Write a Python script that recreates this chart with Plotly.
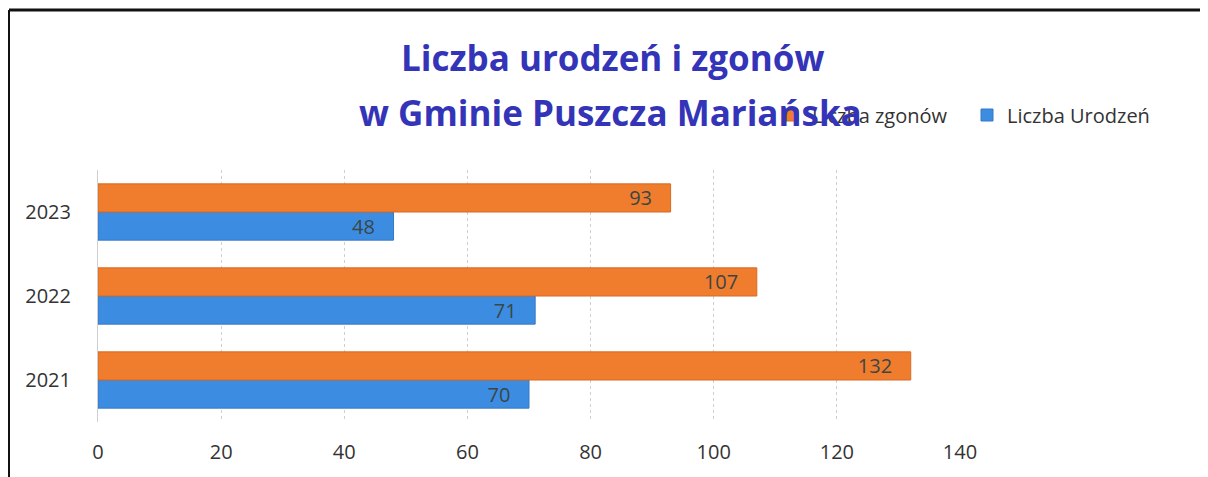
import plotly.graph_objects as go

years = ["2021", "2022", "2023"]
urodzenia = [70, 71, 48]
zgony = [132, 107, 93]
x_ticks = [0, 20, 40, 60, 80, 100, 120, 140]

# page body has an 8px margin: screenshot pixel p -> figure pixel p - 8
OFF = 8
W, H = 1208, 477
L, R, T, B = 98 - OFF, 1208 - (960 - OFF), 170 - OFF, 477 - (422 - OFF)
pw, ph = W - L - R, H - T - B

def px(x):
    return (x - OFF - L) / pw

def py(y):
    return (H - B - (y - OFF)) / ph

lbl_font = dict(family="Open Sans", size=20, color="#3B4646")
pad = "\u00a0\u00a0\u00a0"

fig = go.Figure()
fig.add_trace(go.Bar(
    y=years, x=urodzenia, orientation="h", name="Liczba Urodzeń",
    marker=dict(color="#3C8DE2", line=dict(color="#3478C6", width=1)),
    text=urodzenia, texttemplate="%{x}" + pad, textposition="inside",
    insidetextanchor="end", textangle=0, textfont=lbl_font, constraintext="none",
    legendrank=2,
))
fig.add_trace(go.Bar(
    y=years, x=zgony, orientation="h", name="Liczba zgonów",
    marker=dict(color="#F07C2E", line=dict(color="#D86A22", width=1)),
    text=zgony, texttemplate="%{x}" + pad, textposition="inside",
    insidetextanchor="end", textangle=0, textfont=lbl_font, constraintext="none",
    legendrank=1,
))

fig.update_layout(
    width=W, height=H,
    margin=dict(l=L, r=R, t=T, b=B, autoexpand=False),
    paper_bgcolor="white", plot_bgcolor="white",
    barmode="group", bargap=0.33, bargroupgap=0.0,
    font=dict(family="Open Sans", color="#333333"),
    showlegend=True,
    legend=dict(orientation="h", x=px(772), y=py(115), xanchor="left", yanchor="middle",
                font=dict(size=20, color="#333333"), bgcolor="rgba(0,0,0,0)",
                itemwidth=30, entrywidth=150, entrywidthmode="pixels"),
)
fig.update_xaxes(range=[0, 140], tickvals=x_ticks, showgrid=True, gridcolor="#CFCFCF",
                 griddash="dot", gridwidth=1, zeroline=False, showline=False, ticks="",
                 tickfont=dict(size=20, color="#333333"), ticklabelstandoff=16)
fig.update_yaxes(categoryorder="array", categoryarray=years, showgrid=False,
                 showline=True, linecolor="#D0D0D0", ticks="",
                 tickfont=dict(size=20, color="#333333"), ticklabelstandoff=22)

fig.add_annotation(text="<b>Liczba urodzeń i zgonów</b>", xref="paper", yref="paper",
                   x=px(612), y=py(57), xanchor="center", yanchor="middle", showarrow=False,
                   font=dict(family="Open Sans", size=35, color="#3434B8"))
fig.add_annotation(text="<b>w Gminie Puszcza Mariańska</b>", xref="paper", yref="paper",
                   x=px(610), y=py(113), xanchor="center", yanchor="middle", showarrow=False,
                   font=dict(family="Open Sans", size=35, color="#3434B8"))

# outer border (top and left)
fig.add_shape(type="line", xref="paper", yref="paper", x0=px(9), x1=px(1216), y0=py(10), y1=py(10),
              line=dict(color="#111111", width=3))
fig.add_shape(type="line", xref="paper", yref="paper", x0=px(9), x1=px(9), y0=py(10), y1=py(485),
              line=dict(color="#111111", width=2))

fig.write_html("out.html")
